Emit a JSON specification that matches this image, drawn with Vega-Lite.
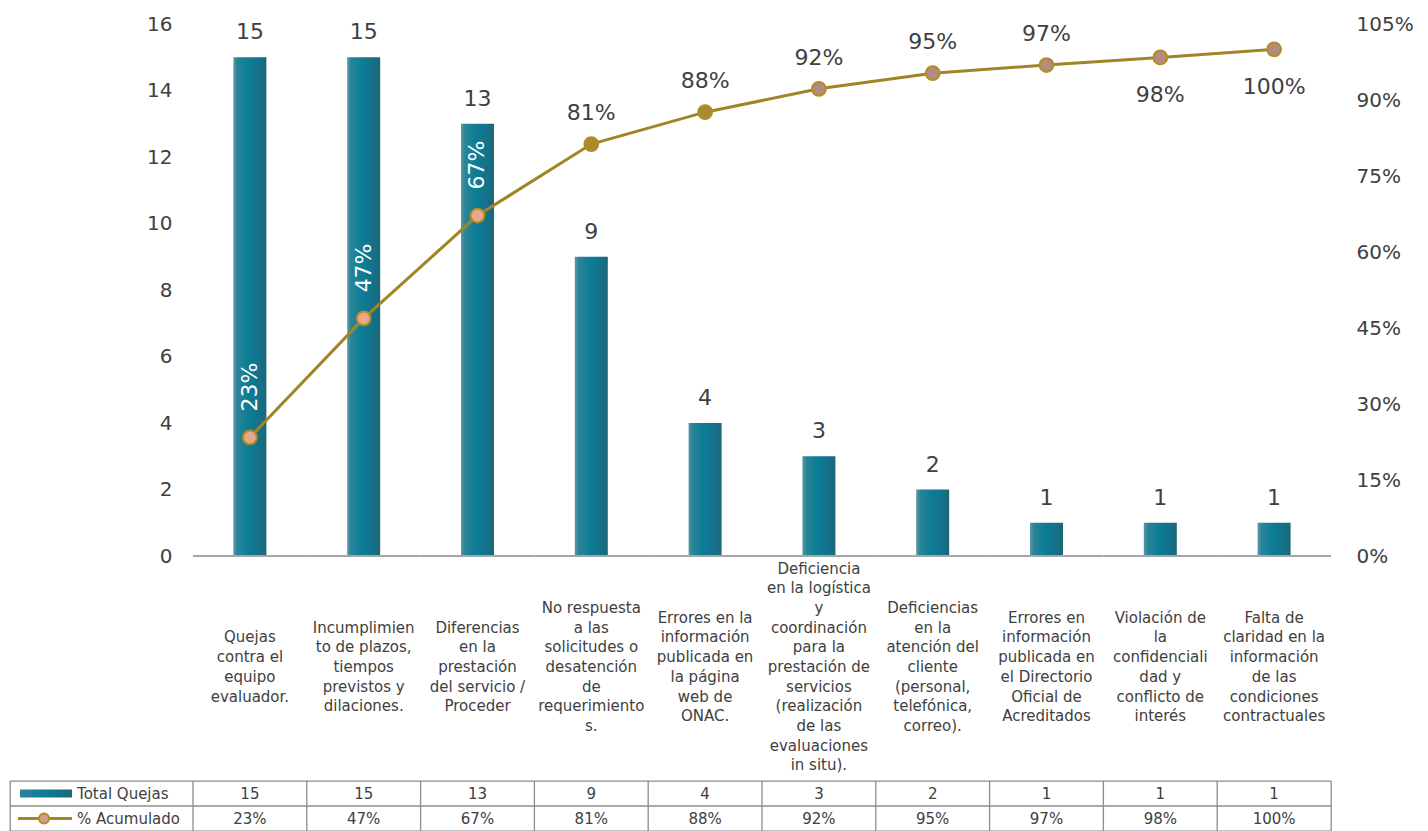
{
  "$schema": "https://vega.github.io/schema/vega-lite/v6.json",
  "padding": {"left": 8, "top": 14, "right": 5, "bottom": 0},
  "config": {"font": "DejaVu Sans", "view": {"stroke": null}},
  "datasets": {
    "quejas": [
      {"i": 1, "cat": "Quejas\ncontra el\nequipo\nevaluador.", "n": 15, "pct": 0.234},
      {"i": 2, "cat": "Incumplimien\nto de plazos,\ntiempos\nprevistos y\ndilaciones.", "n": 15, "pct": 0.469},
      {"i": 3, "cat": "Diferencias\nen la\nprestación\ndel servicio /\nProceder", "n": 13, "pct": 0.672},
      {"i": 4, "cat": "No respuesta\na las\nsolicitudes o\ndesatención\nde\nrequerimiento\ns.", "n": 9, "pct": 0.813},
      {"i": 5, "cat": "Errores en la\ninformación\npublicada en\nla página\nweb de\nONAC.", "n": 4, "pct": 0.876},
      {"i": 6, "cat": "Deficiencia\nen la logística\ny\ncoordinación\npara la\nprestación de\nservicios\n(realización\nde las\nevaluaciones\nin situ).", "n": 3, "pct": 0.922},
      {"i": 7, "cat": "Deficiencias\nen la\natención del\ncliente\n(personal,\ntelefónica,\ncorreo).", "n": 2, "pct": 0.953},
      {"i": 8, "cat": "Errores en\ninformación\npublicada en\nel Directorio\nOficial de\nAcreditados", "n": 1, "pct": 0.969},
      {"i": 9, "cat": "Violación de\nla\nconfidenciali\ndad y\nconflicto de\ninterés", "n": 1, "pct": 0.984},
      {"i": 10, "cat": "Falta de\nclaridad en la\ninformación\nde las\ncondiciones\ncontractuales", "n": 1, "pct": 1.0}
    ]
  },
  "vconcat": [
    {
      "width": 1321,
      "height": 532,
      "data": {"name": "quejas"},
      "encoding": {
        "x": {
          "field": "cat", "type": "nominal", "sort": null,
          "scale": {"paddingInner": 0, "paddingOuter": 0.804, "align": 1},
          "axis": null
        }
      },
      "layer": [
        {
          "encoding": {
            "y": {
              "type": "quantitative",
              "scale": {"domain": [0, 16], "nice": false},
              "axis": {
                "orient": "left", "title": null, "offset": -184, "values": [0, 2, 4, 6, 8, 10, 12, 14, 16],
                "domain": false, "ticks": false, "grid": false, "labelPadding": 22,
                "labelFontSize": 20, "labelColor": "#404040"
              }
            }
          },
          "layer": [
            {
              "mark": {
                "type": "bar", "width": {"band": 0.29},
                "fill": {
                  "gradient": "linear", "x1": 0, "y1": 0, "x2": 1, "y2": 0,
                  "stops": [
                    {"offset": 0, "color": "#5b98a6"},
                    {"offset": 0.12, "color": "#2a8498"},
                    {"offset": 0.45, "color": "#0c7d96"},
                    {"offset": 0.8, "color": "#15708a"},
                    {"offset": 1, "color": "#1d6675"}
                  ]
                }
              },
              "encoding": {"y": {"field": "n", "type": "quantitative"}}
            },
            {
              "mark": {"type": "text", "fontSize": 22, "color": "#404040", "baseline": "middle", "dy": -25},
              "encoding": {"y": {"field": "n", "type": "quantitative"}, "text": {"field": "n", "type": "quantitative"}}
            },
            {
              "mark": {"type": "rect", "fill": null, "stroke": "#a6a6a6", "strokeWidth": 2},
              "encoding": {"y": {"datum": 0, "type": "quantitative"}, "y2": {"datum": 0}}
            },
            {
              "mark": {
                "type": "text", "fontSize": 15, "color": "#404040", "align": "center", "baseline": "middle",
                "lineBreak": "\n", "lineHeight": 19.7,
                "dy": {"expr": "111 - (length(split(datum.cat, '\\n')) - 1) * 9.85"}
              },
              "encoding": {"y": {"datum": 0, "type": "quantitative"}, "text": {"field": "cat"}}
            }
          ]
        },
        {
          "encoding": {
            "y": {
              "type": "quantitative",
              "scale": {"domain": [0, 1.05], "nice": false},
              "axis": {
                "orient": "right", "title": null, "values": [0, 0.15, 0.3, 0.45, 0.6, 0.75, 0.9, 1.05],
                "format": ".0%", "domain": false, "ticks": false, "grid": false, "labelPadding": 25,
                "labelFontSize": 20, "labelColor": "#404040"
              }
            }
          },
          "layer": [
            {
              "mark": {"type": "line", "color": "#a08526", "strokeWidth": 3},
              "encoding": {"y": {"field": "pct", "type": "quantitative"}}
            },
            {
              "mark": {"type": "point", "filled": true, "size": 190, "stroke": "#b08e22", "strokeWidth": 2, "opacity": 1},
              "encoding": {
                "y": {"field": "pct", "type": "quantitative"},
                "fill": {
                  "condition": [
                    {"test": "datum.i <= 3", "value": "#e8a68c"},
                    {"test": "datum.i <= 5", "value": "#a98b2e"}
                  ],
                  "value": "#b38b80"
                }
              }
            },
            {
              "transform": [{"filter": "datum.i <= 3"}],
              "mark": {"type": "text", "fontSize": 22, "color": "#ffffff", "angle": 270, "align": "left", "baseline": "middle", "dx": 26},
              "encoding": {"y": {"field": "pct", "type": "quantitative"}, "text": {"field": "pct", "type": "quantitative", "format": ".0%"}}
            },
            {
              "transform": [{"filter": "datum.i >= 4 && datum.i <= 8"}],
              "mark": {"type": "text", "fontSize": 22, "color": "#404040", "baseline": "middle", "dy": -31},
              "encoding": {"y": {"field": "pct", "type": "quantitative"}, "text": {"field": "pct", "type": "quantitative", "format": ".0%"}}
            },
            {
              "transform": [{"filter": "datum.i >= 9"}],
              "mark": {"type": "text", "fontSize": 22, "color": "#404040", "baseline": "middle", "dy": 38},
              "encoding": {"y": {"field": "pct", "type": "quantitative"}, "text": {"field": "pct", "type": "quantitative", "format": ".0%"}}
            }
          ]
        }
      ],
      "resolve": {"scale": {"y": "independent"}}
    },
    {
      "width": 1321,
      "height": 50,
      "view": {"stroke": "#8c8c8c", "strokeWidth": 1.3},
      "encoding": {
        "x": {"type": "quantitative", "scale": {"domain": [-1.108, 10.5], "nice": false, "zero": false}, "axis": null},
        "y": {"type": "quantitative", "scale": {"domain": [0, 2], "nice": false}, "axis": null}
      },
      "layer": [
        {
          "data": {"name": "quejas"},
          "mark": {"type": "rule", "color": "#8c8c8c", "strokeWidth": 1.3, "xOffset": -56.9},
          "encoding": {"x": {"field": "i"}}
        },
        {
          "data": {"values": [{}]},
          "mark": {"type": "rule", "color": "#8c8c8c", "strokeWidth": 1.3},
          "encoding": {"y": {"datum": 1}}
        },
        {
          "data": {"name": "quejas"},
          "mark": {"type": "text", "fontSize": 15, "color": "#404040", "baseline": "middle"},
          "encoding": {"x": {"field": "i"}, "y": {"datum": 1.5}, "text": {"field": "n", "type": "quantitative"}}
        },
        {
          "data": {"name": "quejas"},
          "mark": {"type": "text", "fontSize": 15, "color": "#404040", "baseline": "middle"},
          "encoding": {"x": {"field": "i"}, "y": {"datum": 0.5}, "text": {"field": "pct", "type": "quantitative", "format": ".0%"}}
        },
        {
          "data": {"values": [{"label": "Total Quejas", "r": 1.5}, {"label": "% Acumulado", "r": 0.5}]},
          "mark": {"type": "text", "fontSize": 15, "color": "#404040", "baseline": "middle", "align": "left"},
          "encoding": {"x": {"datum": -0.519}, "y": {"field": "r", "type": "quantitative"}, "text": {"field": "label"}}
        },
        {
          "data": {"values": [{}]},
          "mark": {
            "type": "rect",
            "fill": {
              "gradient": "linear", "x1": 0, "y1": 0, "x2": 1, "y2": 0,
              "stops": [{"offset": 0, "color": "#2a8498"}, {"offset": 0.5, "color": "#0c7d96"}, {"offset": 1, "color": "#1d6675"}]
            }
          },
          "encoding": {"x": {"datum": -1.02}, "x2": {"datum": -0.563}, "y": {"datum": 1.343}, "y2": {"datum": 1.657}}
        },
        {
          "data": {"values": [{}]},
          "mark": {"type": "rule", "color": "#a08526", "strokeWidth": 3},
          "encoding": {"x": {"datum": -1.038}, "x2": {"datum": -0.563}, "y": {"datum": 0.5}}
        },
        {
          "data": {"values": [{}]},
          "mark": {"type": "point", "filled": true, "size": 100, "fill": "#d4a08a", "stroke": "#b08e22", "strokeWidth": 2, "opacity": 1},
          "encoding": {"x": {"datum": -0.809}, "y": {"datum": 0.5}}
        }
      ]
    }
  ],
  "spacing": 5
}
